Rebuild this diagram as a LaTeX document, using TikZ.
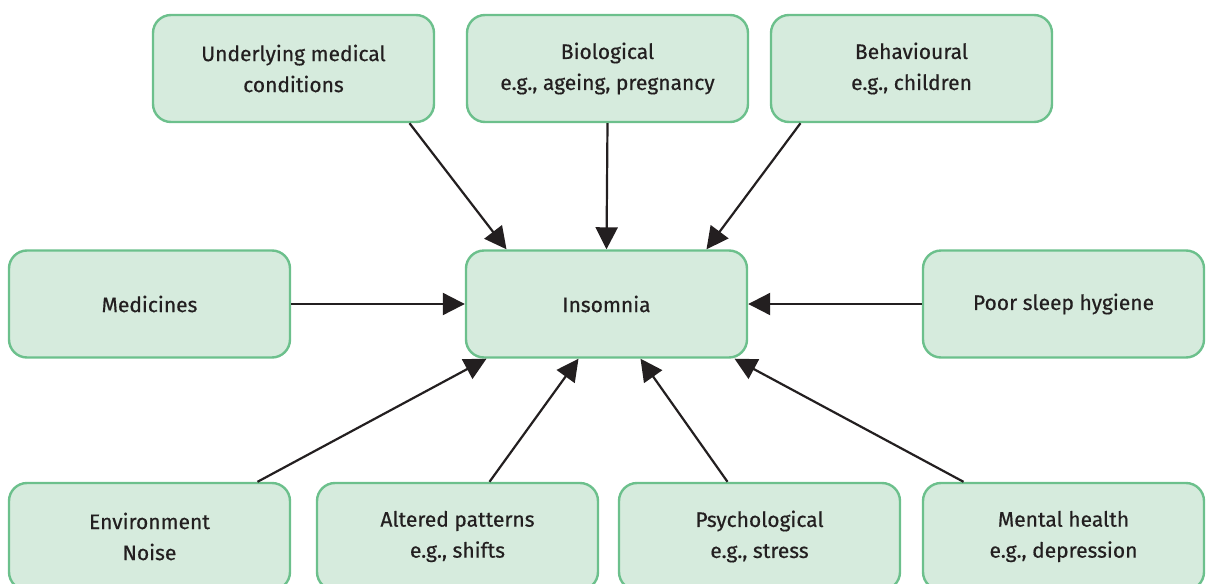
\documentclass[tikz,border=0pt]{standalone}
\usepackage{fontspec}
\setmainfont{Fira Sans}[FakeBold=0.5]
\usetikzlibrary{arrows.meta, positioning}
\definecolor{boxline}{RGB}{108,192,140}
\definecolor{boxfill}{RGB}{214,235,221}
\definecolor{inkgray}{RGB}{35,31,32}
\tikzset{
  factor/.style = {rectangle, rounded corners=9pt, draw=boxline, line width=1.2pt, fill=boxfill, align=center, minimum height=53.5pt, minimum width=140.5pt, text=inkgray, font=\fontsize{10.5}{15.5}\selectfont},
  line/.style = {-{Triangle[length=11pt, width=11pt]}, line width=1.1pt, draw=inkgray}
}
\begin{document}
\begin{tikzpicture}[x=0.5pt, y=-0.5pt]
\useasboundingbox (0,0) rectangle (1206,584);

% Top row
\node[factor] (cond) at (293.5,68.5) {Underlying medical\\conditions};
\node[factor] (bio) at (607.5,68.5) {Biological\\e.g., ageing, pregnancy};
\node[factor] (behav) at (911.5,68.5) {Behavioural\\e.g., children};

% Middle row
\node[factor] (insom) at (606.5,304) {Insomnia};
\node[factor] (meds) at (149.5,304) {Medicines};
\node[factor] (hyg) at (1063.5,304) {Poor sleep hygiene};

% Bottom row
\node[factor] (env) at (149.5,536.5) {Environment\\Noise};
\node[factor] (shift) at (457.5,536.5) {Altered patterns\\e.g., shifts};
\node[factor] (psych) at (759.5,536.5) {Psychological\\e.g., stress};
\node[factor] (mental) at (1063.5,536.5) {Mental health\\e.g., depression};

% Connections
\draw[line] ([xshift=58pt]cond.south) -- ([xshift=-50pt]insom.north);
\draw[line] (bio.south) -- (insom.north);
\draw[line] ([xshift=-55.5pt]behav.south) -- ([xshift=50pt]insom.north);
\draw[line] (meds.east) -- (insom.west);
\draw[line] (hyg.west) -- (insom.east);
\draw[line] ([xshift=54pt]env.north) -- ([xshift=-60pt]insom.south);
\draw[line] ([xshift=16pt]shift.north) -- ([xshift=-14pt]insom.south);
\draw[line] ([xshift=-16pt]psych.north) -- ([xshift=17pt]insom.south);
\draw[line] ([xshift=-50pt]mental.north) -- ([xshift=64pt]insom.south);

\end{tikzpicture}
\end{document}
